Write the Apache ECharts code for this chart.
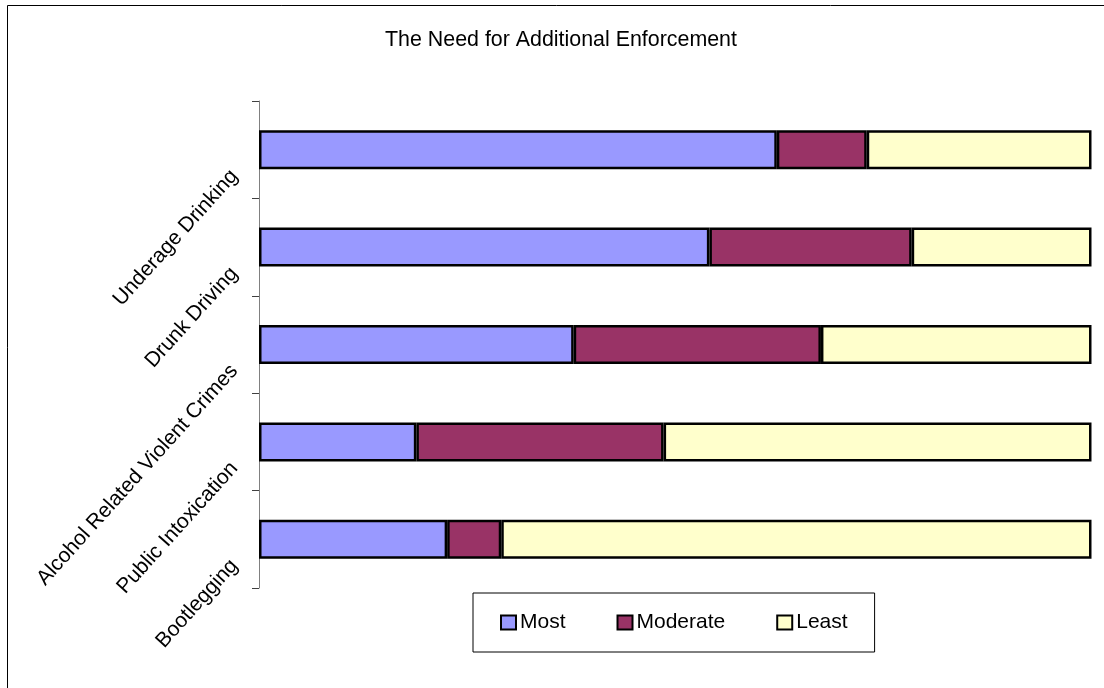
<!DOCTYPE html>
<html>
<head>
<meta charset="utf-8">
<title>The Need for Additional Enforcement</title>
<script src="https://cdn.jsdelivr.net/npm/echarts@6/dist/echarts.min.js"></script>
<style>
  html, body { margin: 0; padding: 0; background: #fff; }
  #chart { width: 1104px; height: 688px; }
</style>
</head>
<body>
<div id="chart"></div>
<script>
// Share of responses (%) per offence, listed top to bottom
const categories = [
  'Underage Drinking',
  'Drunk Driving',
  'Alcohol Related Violent Crimes',
  'Public Intoxication',
  'Bootlegging'
];
const most     = [62.2, 54.1, 37.8, 18.9, 22.6];
const moderate = [10.8, 24.3, 29.7, 29.7, 6.5];
const least    = [27.0, 21.6, 32.5, 51.4, 70.9];

const FONT = '"Liberation Sans", Arial, sans-serif';

const chart = echarts.init(document.getElementById('chart'), null, { renderer: 'canvas' });

function barSeries(name, data, color) {
  return {
    name: name,
    type: 'bar',
    stack: 'total',
    data: data,
    barWidth: '40%',
    itemStyle: { color: color, borderColor: '#000', borderWidth: 2.5 },
    emphasis: { disabled: true },
    animation: false
  };
}

chart.setOption({
  animation: false,
  backgroundColor: '#fff',
  textStyle: { fontFamily: FONT },
  title: {
    text: 'The Need for Additional Enforcement',
    left: 385,
    top: 30,
    padding: 0,
    textStyle: { fontFamily: FONT, fontSize: 21.4, fontWeight: 'normal', color: '#000' }
  },
  graphic: [{
    type: 'rect',
    silent: true,
    shape: { x: 7.5, y: 5.5, width: 1200, height: 800 },
    style: { fill: 'none', stroke: '#000', lineWidth: 1 }
  }],
  grid: { left: 259, top: 101, right: 12.5, bottom: 100, containLabel: false },
  xAxis: {
    type: 'value',
    min: 0,
    max: 100,
    show: false
  },
  yAxis: {
    type: 'category',
    data: categories,
    inverse: true,
    axisLine: { show: true, lineStyle: { color: '#808080', width: 1 } },
    axisTick: { show: true, length: 7, lineStyle: { color: '#404040', width: 1 } },
    axisLabel: {
      interval: 0,
      rotate: 48,
      margin: 4,
      padding: [0, 31, 0, 0],
      fontFamily: FONT,
      fontSize: 21,
      color: '#000'
    },
    splitLine: { show: false }
  },
  legend: {
    data: ['Most', 'Moderate', 'Least'],
    left: 473,
    top: 593,
    orient: 'horizontal',
    padding: [19, 27, 19, 27],
    itemGap: 51,
    itemWidth: 15,
    itemHeight: 14,
    icon: 'rect',
    borderColor: '#000',
    borderWidth: 1,
    selectedMode: false,
    textStyle: { fontFamily: FONT, fontSize: 21, color: '#000', padding: [0, 0, 0, -1] }
  },
  series: [
    barSeries('Most', most, '#9999FF'),
    barSeries('Moderate', moderate, '#993366'),
    barSeries('Least', least, '#FFFFCC')
  ]
});
</script>
</body>
</html>
